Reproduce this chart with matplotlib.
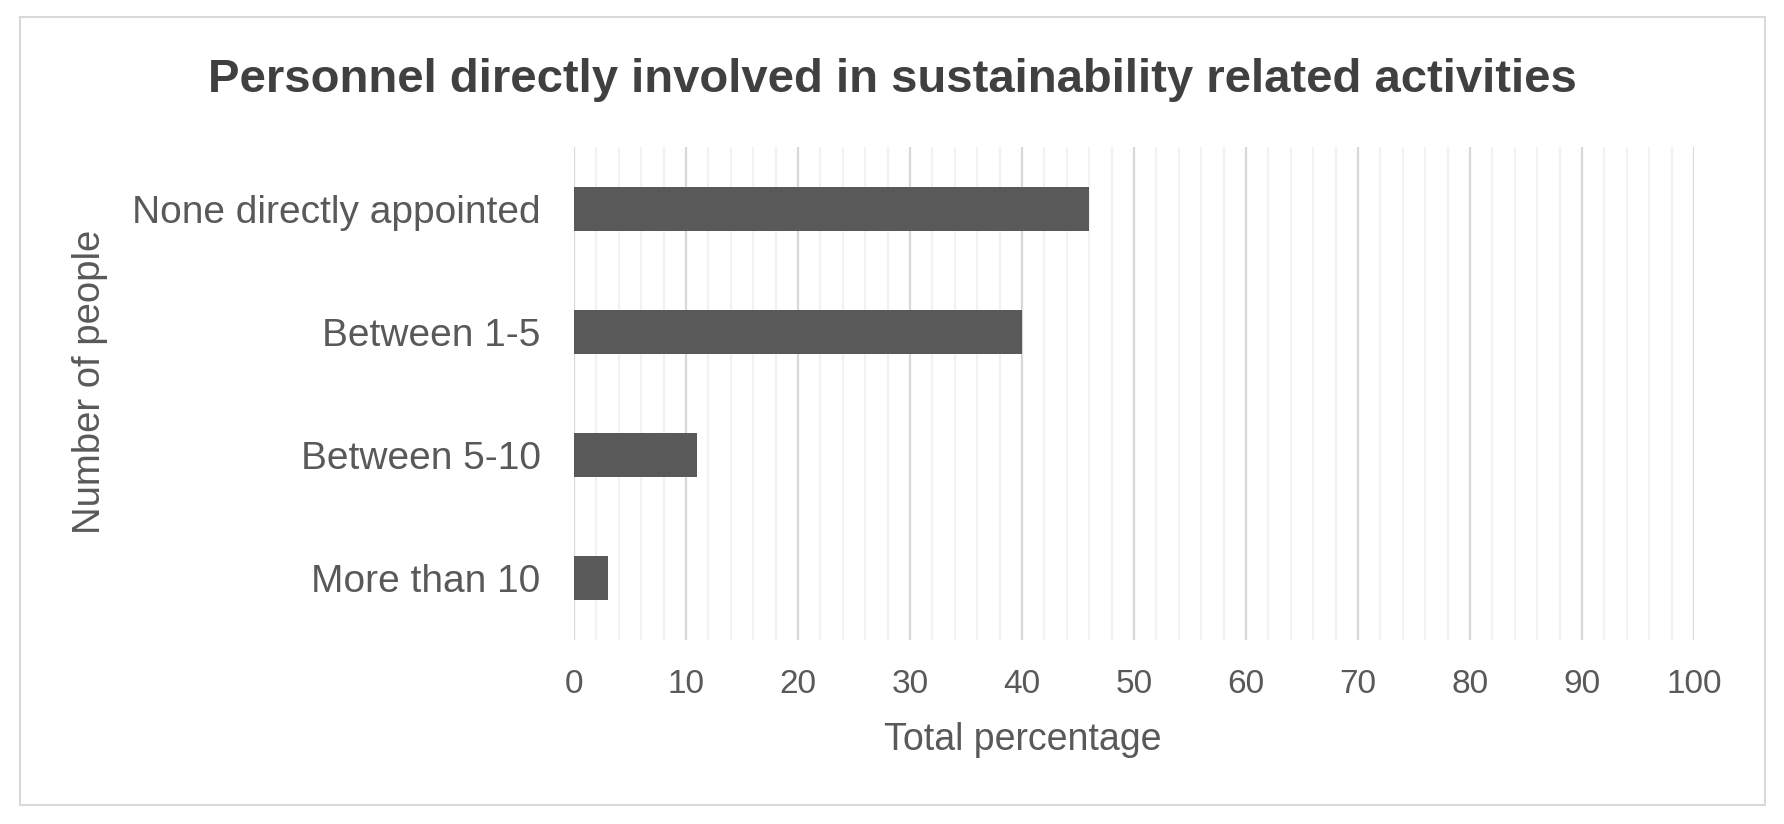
import matplotlib
matplotlib.use("Agg")
import matplotlib.pyplot as plt
from matplotlib.ticker import MultipleLocator
from matplotlib.patches import Rectangle

# ---- data
categories = ["None directly appointed", "Between 1-5", "Between 5-10", "More than 10"]
percentages = [46, 40, 11, 3]
x_ticks = list(range(0, 101, 10))

title = "Personnel directly involved in sustainability related activities"
x_title = "Total percentage"
y_title = "Number of people"

W, H = 1784, 824
plt.rcParams["font.family"] = ["Liberation Sans", "DejaVu Sans"]

fig = plt.figure(figsize=(W / 100, H / 100), dpi=100)
ax = fig.add_axes([574 / W, 1 - 640 / H, (1694 - 574) / W, (640 - 147) / H])

ax.barh(range(len(categories)), percentages, height=0.355, color="#595959", zorder=3)

ax.set_xlim(0, 100)
ax.set_ylim(3.5, -0.5)
ax.set_xticks(x_ticks)
ax.xaxis.set_minor_locator(MultipleLocator(2))
ax.set_yticks(range(len(categories)))
ax.set_yticklabels(categories)

ax.grid(axis="x", which="major", color="#d9d9d9", lw=1.6, zorder=0)
ax.grid(axis="x", which="minor", color="#f2f2f2", lw=1.6, zorder=0)
ax.set_axisbelow(True)
for s in ax.spines.values():
    s.set_visible(False)

ax.tick_params(axis="y", length=0, pad=24, labelsize=28, labelcolor="#595959")
ax.tick_params(axis="x", which="both", length=0, pad=21, labelsize=24, labelcolor="#595959")

fig.text(0.5, 1 - 92 / H, title, ha="center", va="baseline",
         fontsize=34, fontweight="bold", color="#404040")
fig.text((574 + 0.401 * 1120) / W, 1 - 750 / H, x_title, ha="center", va="baseline",
         fontsize=27, color="#595959")
fig.text(90 / W, 1 - 382 / H, y_title, ha="center", va="center", rotation=90,
         fontsize=27.5, color="#595959")

# light frame round the chart
fig.patches.append(Rectangle((20 / W, 1 - 805 / H), (1765 - 20) / W, (805 - 17) / H,
                             transform=fig.transFigure, fill=False,
                             edgecolor="#d9d9d9", lw=1.5))

fig.savefig("out.png", dpi=100)
